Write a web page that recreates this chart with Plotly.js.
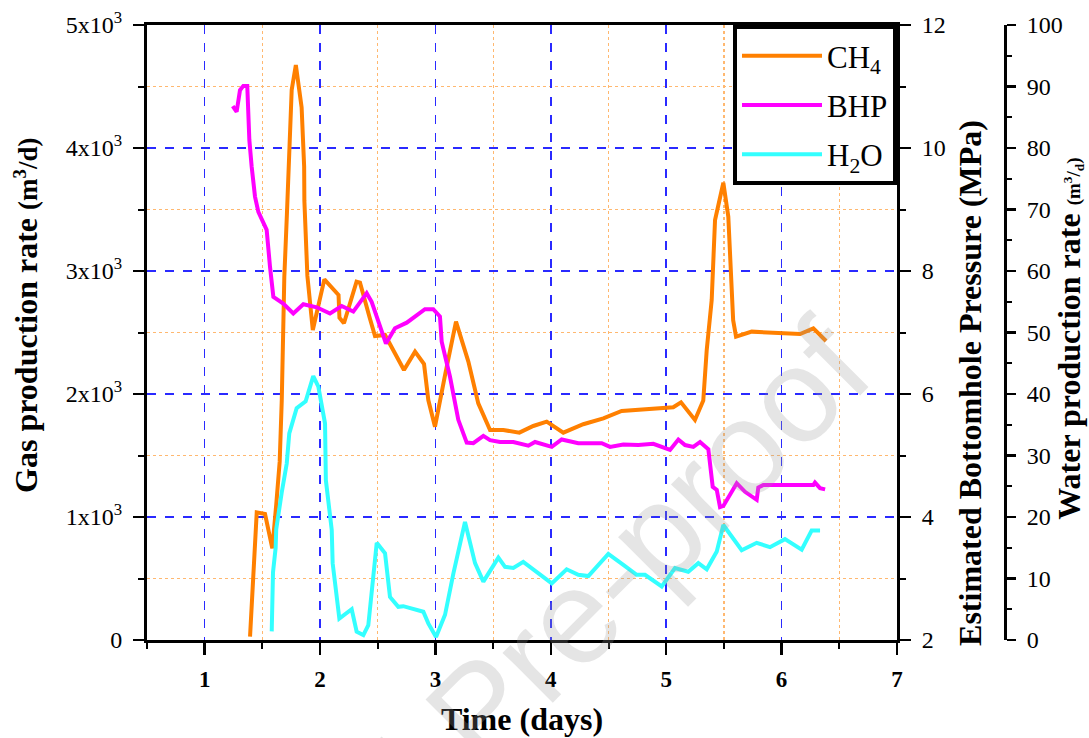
<!DOCTYPE html>
<html>
<head>
<meta charset="utf-8">
<script src="https://cdn.plot.ly/plotly-3.0.1.min.js"></script>
<style>
  html, body { margin: 0; padding: 0; background: #fff; }
  #chart { width: 1089px; height: 738px; }
</style>
</head>
<body>
<div id="chart"></div>
<script>
// Methane production rate (m3/d) against time (days)
const ch4Days = [1.393,1.451,1.523,1.586,1.620,1.650,1.668,1.682,1.690,1.712,1.754,1.790,1.840,1.862,1.864,1.890,1.937,2.037,2.160,2.168,2.207,2.316,2.346,2.430,2.476,2.563,2.649,2.727,2.823,2.901,2.938,2.996,3.083,3.178,3.285,3.371,3.473,3.588,3.727,3.848,3.964,4.108,4.281,4.455,4.614,5.061,5.128,5.249,5.321,5.351,5.394,5.423,5.495,5.538,5.580,5.605,5.741,6.160,6.275,6.385];
const ch4Rate = [27,1038,1024,745,1100,1450,1950,2500,2950,3450,4472,4675,4330,3850,3570,2960,2520,2932,2805,2620,2575,2913,2905,2620,2471,2480,2331,2195,2344,2244,1951,1734,2154,2588,2263,1924,1707,1707,1686,1740,1775,1686,1754,1802,1862,1892,1932,1789,1946,2358,2764,3415,3718,3441,2600,2466,2507,2488,2534,2431];

// Estimated bottomhole pressure (MPa)
const bhpDays = [1.243,1.277,1.306,1.335,1.369,1.387,1.407,1.436,1.465,1.537,1.566,1.595,1.681,1.768,1.855,1.971,2.086,2.187,2.288,2.404,2.447,2.519,2.571,2.649,2.751,2.909,2.981,3.039,3.054,3.126,3.198,3.271,3.328,3.415,3.473,3.559,3.675,3.805,3.863,4.008,4.094,4.238,4.441,4.513,4.628,4.758,4.888,5.033,5.105,5.163,5.235,5.293,5.365,5.403,5.438,5.466,5.495,5.611,5.683,5.784,5.798,5.841,5.986,6.275,6.289,6.333,6.377];
const bhpMPa = [10.68,10.59,10.94,11.01,11.01,10.13,9.70,9.21,8.96,8.67,8.07,7.58,7.47,7.31,7.46,7.41,7.31,7.43,7.34,7.64,7.50,7.09,6.82,7.07,7.16,7.38,7.38,7.26,6.85,6.28,5.58,5.21,5.20,5.32,5.25,5.22,5.22,5.16,5.22,5.14,5.26,5.20,5.20,5.14,5.18,5.17,5.19,5.09,5.26,5.17,5.14,5.22,5.10,4.49,4.44,4.16,4.18,4.55,4.41,4.28,4.48,4.52,4.52,4.52,4.56,4.47,4.45];

// Water production rate (m3/d)
const h2oDays = [1.581,1.592,1.615,1.620,1.667,1.711,1.733,1.797,1.875,1.941,1.985,2.043,2.050,2.101,2.109,2.167,2.274,2.317,2.375,2.418,2.491,2.563,2.606,2.678,2.721,2.895,2.938,3.005,3.083,3.155,3.256,3.343,3.415,3.545,3.603,3.675,3.761,3.878,4.008,4.137,4.238,4.325,4.498,4.628,4.744,4.816,4.961,5.076,5.191,5.278,5.351,5.438,5.495,5.654,5.784,5.899,6.029,6.174,6.260,6.333];
const h2oRate = [1.4,11,15,18,23.9,28.7,33.6,37.7,38.8,42.9,41.2,35.2,26,17.9,12.5,3.5,5.0,1.35,0.8,2.4,15.8,14.1,7.0,5.4,5.5,4.6,2.7,0.5,4.1,10.8,19.2,12.5,9.5,13.4,11.9,11.7,12.7,11.1,9.2,11.5,10.6,10.4,14.0,12.2,10.6,10.6,8.7,11.7,11.1,12.5,11.5,14.4,18.7,14.6,15.8,15.1,16.4,14.7,17.8,17.8];

const seriesNames = ['CH<sub>4</sub>', 'BHP', 'H<sub>2</sub>O'];
const gasTickAlias = {'1000': '1x10<sup>3</sup>', '2000': '2x10<sup>3</sup>', '3000': '3x10<sup>3</sup>', '4000': '4x10<sup>3</sup>', '5000': '5x10<sup>3</sup>'};
const dayTickAlias = {'1': '<b>1</b>', '2': '<b>2</b>', '3': '<b>3</b>', '4': '<b>4</b>', '5': '<b>5</b>', '6': '<b>6</b>', '7': '<b>7</b>'};

const SERIF = 'Liberation Serif, Times New Roman, serif';
const MAJOR_GRID = '#2a2aff';
const MINOR_GRID = '#ffb870';
const TITLE_FONT = {family: SERIF, size: 32, color: '#000', weight: 'bold'};
const TICK_FONT = {family: SERIF, size: 24, color: '#000'};

const traces = [
  {x: ch4Days, y: ch4Rate, name: seriesNames[0], yaxis: 'y', legendgroup: 'a',
   mode: 'lines', line: {color: '#ff8000', width: 4}},
  {x: bhpDays, y: bhpMPa, name: seriesNames[1], yaxis: 'y2', legendgroup: 'b',
   mode: 'lines', line: {color: '#ff00ff', width: 4}},
  {x: h2oDays, y: h2oRate, name: seriesNames[2], yaxis: 'y3', legendgroup: 'c',
   mode: 'lines', line: {color: '#33ffff', width: 4}}
];

// plot area spans 147..897 px of a 858 px wide paper region
const plotRight = 750 / 858;

const rightAxis = {
  ticks: 'outside', ticklen: 11, tickwidth: 2.5, tickcolor: '#000', ticklabelstandoff: 6,
  showline: true, linewidth: 3, linecolor: '#000', zeroline: false, showgrid: false,
  tickfont: TICK_FONT
};

const layout = {
  width: 1089, height: 738,
  margin: {l: 147, r: 84, t: 25, b: 98},
  paper_bgcolor: '#ffffff', plot_bgcolor: '#ffffff',
  font: {family: SERIF, color: '#000'},
  showlegend: true,
  legend: {
    x: plotRight, xanchor: 'right', y: 1, yanchor: 'top',
    bgcolor: '#ffffff', bordercolor: '#000', borderwidth: 4,
    font: {family: SERIF, size: 31, color: '#000'},
    traceorder: 'grouped', tracegroupgap: 6, itemwidth: 80
  },
  xaxis: {
    domain: [0, plotRight], range: [0.5, 7],
    tick0: 0, dtick: 1, labelalias: dayTickAlias,
    ticks: 'outside', ticklen: 12, tickwidth: 2.5, tickcolor: '#000',
    ticklabelstandoff: 4,
    showline: true, linewidth: 3, linecolor: '#000', mirror: true, zeroline: false,
    showgrid: true, gridcolor: MAJOR_GRID, griddash: 'dash', gridwidth: 1.5,
    minor: {dtick: 0.5, tick0: 0, ticks: 'outside', ticklen: 6, tickwidth: 2, tickcolor: '#000',
            showgrid: true, gridcolor: MINOR_GRID, griddash: 'dot', gridwidth: 1.2},
    tickfont: {family: SERIF, size: 23, color: '#000', weight: 'bold'},
    title: {text: 'Time (days)', font: TITLE_FONT, standoff: 18}
  },
  yaxis: {
    range: [0, 5000], tick0: 0, dtick: 1000, tickformat: 'd', labelalias: gasTickAlias,
    ticks: 'outside', ticklen: 11, tickwidth: 2.5, tickcolor: '#000', ticklabelstandoff: 6,
    showline: true, linewidth: 3, linecolor: '#000', mirror: true, zeroline: false,
    showgrid: true, gridcolor: MAJOR_GRID, griddash: 'dash', gridwidth: 1.5,
    minor: {dtick: 500, tick0: 0, ticks: 'outside', ticklen: 6, tickwidth: 2, tickcolor: '#000',
            showgrid: true, gridcolor: MINOR_GRID, griddash: 'dot', gridwidth: 1.2},
    tickfont: TICK_FONT
  },
  yaxis2: Object.assign({}, rightAxis, {
    overlaying: 'y', side: 'right', anchor: 'x',
    range: [2, 12], tick0: 0, dtick: 2,
    minor: {dtick: 1, tick0: 0, ticks: 'outside', ticklen: 6, tickwidth: 2, tickcolor: '#000', showgrid: false}
  }),
  yaxis3: Object.assign({}, rightAxis, {
    overlaying: 'y', side: 'right', anchor: 'free', position: 1,
    range: [0, 100], tick0: 0, dtick: 10, ticklen: 9,
    minor: {dtick: 5, tick0: 0, ticks: 'outside', ticklen: 5, tickwidth: 2, tickcolor: '#000', showgrid: false}
  }),
  annotations: [
    {
      text: 'Gas production rate <span style="font-size:27px">(m<sup>3</sup>/d)</span>',
      xref: 'paper', yref: 'paper', x: -0.141, y: 0.527,
      xanchor: 'center', yanchor: 'middle', showarrow: false, textangle: -90,
      font: TITLE_FONT
    },
    {
      text: 'Estimated Bottomhole Pressure (MPa)',
      xref: 'paper', yref: 'paper', x: 0.9592, y: 0.418,
      xanchor: 'center', yanchor: 'middle', showarrow: false, textangle: -90,
      font: TITLE_FONT
    },
    {
      text: 'Water production rate <span style="font-size:19px">(m<sup>3</sup>/<sub>d</sub>)</span>',
      xref: 'paper', yref: 'paper', x: 1.0746, y: 0.49,
      xanchor: 'center', yanchor: 'middle', showarrow: false, textangle: -90,
      font: TITLE_FONT
    },
    {
      text: 'Journal Pre-proof', xref: 'paper', yref: 'paper',
      x: 0.387, y: -0.114, xanchor: 'center', yanchor: 'middle',
      showarrow: false, textangle: -45,
      font: {family: 'Liberation Sans, Arial, sans-serif', size: 134, color: 'rgba(150,150,150,0.25)'}
    }
  ]
};

Plotly.newPlot('chart', traces, layout, {displayModeBar: false, staticPlot: true});
</script>
</body>
</html>
